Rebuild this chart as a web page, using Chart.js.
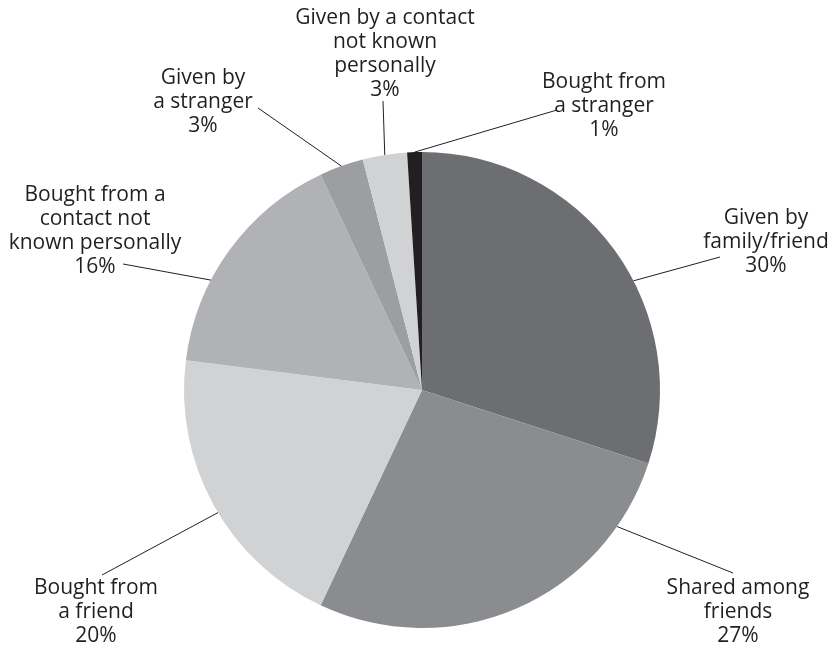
<!DOCTYPE html>
<html>
<head>
<meta charset="utf-8">
<script src="https://cdn.jsdelivr.net/npm/chart.js@4/dist/chart.umd.min.js"></script>
<style>
  html, body { margin: 0; padding: 0; background: #ffffff; }
  #wrap { width: 833px; height: 647px; }
</style>
</head>
<body>
<div id="wrap"><canvas id="c" width="833" height="647"></canvas></div>
<script>
// ---- data ----
const categories = [
  "Given by family/friend",
  "Shared among friends",
  "Bought from a friend",
  "Bought from a contact not known personally",
  "Given by a stranger",
  "Given by a contact not known personally",
  "Bought from a stranger"
];
const values = [30, 27, 20, 16, 3, 3, 1];
const labelLines = [
  ["Given by", "family/friend"],
  ["Shared among", "friends"],
  ["Bought from", "a friend"],
  ["Bought from a", "contact not", "known personally"],
  ["Given by", "a stranger"],
  ["Given by a contact", "not known", "personally"],
  ["Bought from", "a stranger"]
];
const colors = ["#6d6e72", "#8b8c90", "#d1d2d4", "#b1b2b5", "#9d9ea1", "#d1d2d4", "#231f20"];

// label layout (offsets from pie centre, px), leader edge angle in degrees clockwise from top (null = slice middle)
const labelLayout = [
  { tx: 344, ty: -172, lx: 298, ly: -133, ang: 62.7 },
  { tx: 316, ty: 198, lx: 311, ly: 183, ang: 125 },
  { tx: -326, ty: 198, lx: -320, ly: 185, ang: 239 },
  { tx: -327, ty: -195, lx: -299, ly: -126, ang: 297.5 },
  { tx: -219, ty: -312, lx: -164, ly: -282, ang: null },
  { tx: -37, ty: -372, lx: -39, ly: -289, ang: null },
  { tx: 182, ty: -308, lx: 135, ly: -280, ang: null }
];

const labelPlugin = {
  id: 'pieLabels',
  afterDatasetsDraw(chart) {
    const ctx = chart.ctx;
    const meta = chart.getDatasetMeta(0);
    const total = values.reduce((a, b) => a + b, 0);
    ctx.save();
    ctx.font = '21px "Open Sans", "Noto Sans", sans-serif';
    ctx.fillStyle = '#231f20';
    ctx.strokeStyle = '#231f20';
    ctx.lineWidth = 1;
    ctx.textAlign = 'center';
    ctx.textBaseline = 'middle';
    meta.data.forEach((arc, i) => {
      const cx = arc.x, cy = arc.y, r = arc.outerRadius;
      const lay = labelLayout[i];
      let a;
      if (lay.ang === null) {
        a = (arc.startAngle + arc.endAngle) / 2;
      } else {
        a = lay.ang * Math.PI / 180 - Math.PI / 2;
      }
      const ex = cx + r * Math.cos(a);
      const ey = cy + r * Math.sin(a);
      ctx.beginPath();
      ctx.moveTo(cx + lay.lx, cy + lay.ly);
      ctx.lineTo(ex, ey);
      ctx.stroke();
      const lines = labelLines[i].concat([Math.round(values[i] / total * 100) + '%']);
      lines.forEach((t, k) => {
        ctx.fillText(t, cx + lay.tx, cy + lay.ty + k * 24);
      });
    });
    ctx.restore();
  }
};

new Chart(document.getElementById('c'), {
  type: 'pie',
  data: {
    labels: categories,
    datasets: [{
      data: values,
      backgroundColor: colors,
      borderColor: colors,
      borderWidth: 0
    }]
  },
  options: {
    responsive: false,
    animation: false,
    layout: { padding: { top: 152, bottom: 19, left: 184, right: 173 } },
    plugins: {
      legend: { display: false },
      tooltip: { enabled: false }
    }
  },
  plugins: [labelPlugin]
});
</script>
</body>
</html>
